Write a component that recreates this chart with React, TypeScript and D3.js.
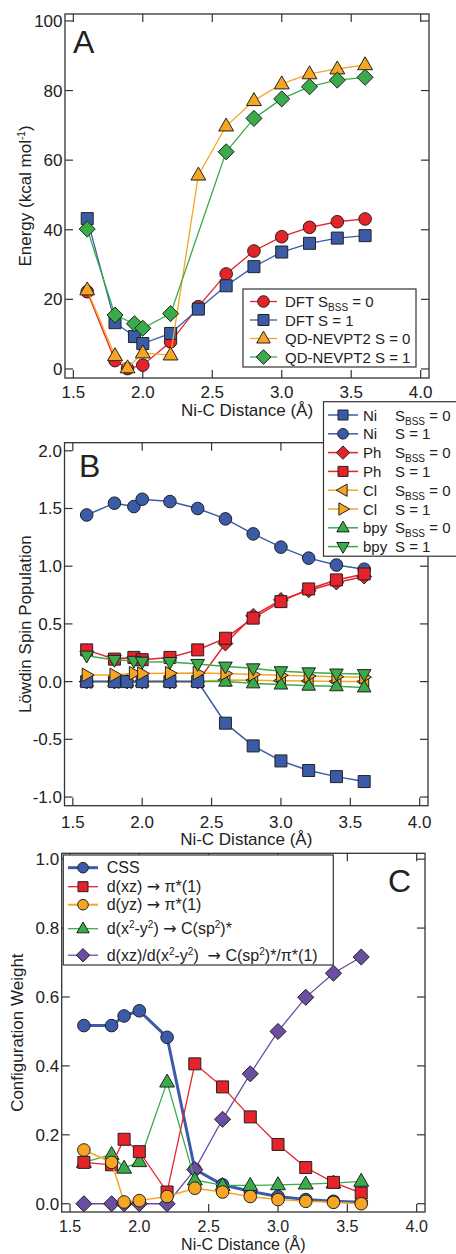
import React from 'react';
import * as d3 from 'd3';

// Ni-C distances: S(BSS)=0 scans use 1.89, S=1 scans use 1.94
const xS0 = [1.6, 1.8, 1.89, 2.0, 2.2, 2.4, 2.6, 2.8, 3.0, 3.2, 3.4, 3.6];
const xS1 = [1.6, 1.8, 1.94, 2.0, 2.2, 2.4, 2.6, 2.8, 3.0, 3.2, 3.4, 3.6];
const xTicks = [1.5, 2.0, 2.5, 3.0, 3.5, 4.0];

// A: energies (kcal/mol)
const energyTicks = [0, 20, 40, 60, 80, 100];
const dftBss0 = [22.2, 2.4, 0.1, 1.1, 7.8, 17.9, 27.3, 33.9, 38.0, 40.7, 42.3, 43.1];
const dftS1 = [43.2, 13.3, 9.3, 7.3, 10.2, 17.2, 23.9, 29.4, 33.6, 36.1, 37.6, 38.3];
const nevS0 = [22.7, 3.8, 0.3, 4.6, 4.0, 55.7, 69.8, 77.1, 81.9, 84.8, 86.2, 87.4];
const nevS1 = [40.2, 15.5, 13.0, 11.7, 15.9, null, 62.4, 72.0, 77.6, 81.1, 83.0, 83.8];

// B: Löwdin spin populations
const spinTicks = [-1.0, -0.5, 0.0, 0.5, 1.0, 1.5, 2.0];
const niBss0 = [0, 0, 0, 0, 0, 0, -0.36, -0.557, -0.687, -0.77, -0.823, -0.866];
const niS1 = [1.444, 1.546, 1.517, 1.58, 1.56, 1.5, 1.41, 1.28, 1.165, 1.07, 1.01, 0.974];
const phBss0 = [0, 0, 0, 0, 0, 0, 0.33, 0.57, 0.708, 0.79, 0.858, 0.91];
const phS1 = [0.275, 0.195, 0.21, 0.19, 0.21, 0.275, 0.376, 0.55, 0.693, 0.803, 0.881, 0.933];
const clBss0 = [0, 0, 0, 0, 0, 0, 0.015, 0.012, 0.008, 0.005, 0.002, 0.0];
const clS1 = [0.058, 0.058, 0.072, 0.07, 0.072, 0.074, 0.07, 0.062, 0.055, 0.048, 0.042, 0.038];
const bpyBss0 = [0, 0, 0, 0, 0, 0, 0.0, -0.015, -0.025, -0.035, -0.04, -0.05];
const bpyS1 = [0.225, 0.188, 0.18, 0.173, 0.17, 0.153, 0.13, 0.115, 0.09, 0.08, 0.07, 0.065];

// C: configuration weights
const weightTicks = [0, 0.2, 0.4, 0.6, 0.8, 1.0];
const css = [0.517, 0.517, 0.545, 0.56, 0.483, 0.1, 0.055, 0.036, 0.021, 0.012, 0.007, 0.004];
const dxz = [0.12, 0.113, 0.187, 0.151, 0.034, 0.406, 0.339, 0.252, 0.172, 0.105, 0.062, 0.031];
const dyz = [0.156, 0.12, 0.005, 0.009, 0.021, 0.045, 0.034, 0.021, 0.012, 0.007, 0.004, 0.0];
const dx2y2 = [0.12, 0.143, 0.103, 0.122, 0.353, 0.069, 0.053, 0.053, 0.055, 0.057, 0.06, 0.065];
const mixed = [0, 0, 0, 0, 0, 0.099, 0.245, 0.377, 0.5, 0.599, 0.669, 0.716];

const RED = '#e6222a';
const BLUE = '#3b5ba9';
const ORANGE = '#f6a623';
const GREEN = '#3aab49';
const PURPLE = '#6a4ea1';
const INK = '#222';
const FONT = '"Liberation Sans", Arial, sans-serif';
const TL = 8;

function marker(shape: string, s = 12) {
  const a = s / 2;
  if (shape === 'circle') {
    const r = s / 2 + 0.3;
    return `M${r},0A${r},${r} 0 1 1 ${-r},0A${r},${r} 0 1 1 ${r},0Z`;
  }
  if (shape === 'square') return `M${-a},${-a}H${a}V${a}H${-a}Z`;
  if (shape === 'diamond') {
    const d = s * 0.67;
    return `M0,${-d}L${d},0L0,${d}L${-d},0Z`;
  }
  const w = s * 0.62, h = s * 1.08;
  const pts: number[][] = [[0, -h * 0.62], [w, h * 0.38], [-w, h * 0.38]];
  const rot = { up: 0, right: 90, down: 180, left: 270 }[shape] || 0;
  const t = (rot * Math.PI) / 180;
  const p = pts.map(([x, y]) => [x * Math.cos(t) - y * Math.sin(t), x * Math.sin(t) + y * Math.cos(t)]);
  return `M${p[0][0]},${p[0][1]}L${p[1][0]},${p[1][1]}L${p[2][0]},${p[2][1]}Z`;
}

const Series = ({ x, y, xs, ys, color, shape, lw = 1.3, size = 12 }: any) => {
  const pts = xs.map((v: number, i: number) => [v, ys[i]]).filter((p: any) => p[1] != null);
  const line = d3.line<any>().x((d) => x(d[0])).y((d) => y(d[1]));
  const m = marker(shape, size);
  return (
    <g>
      <path d={line(pts) || ''} fill="none" stroke={color} strokeWidth={lw} />
      {pts.map((p: any, i: number) => (
        <path key={i} d={m} transform={`translate(${x(p[0])},${y(p[1])})`} fill={color} stroke={INK} strokeWidth={1} />
      ))}
    </g>
  );
};

const Frame = ({ x, y, yTicks, yFmt, xLabelY, xTitleY, yTitleX, yTitle, letter, fs = 17 }: any) => {
  const [x0, x1] = x.range();
  const [yb, yt] = y.range();
  return (
    <g fontFamily={FONT} fill={INK}>
      <rect x={x0} y={yt} width={x1 - x0} height={yb - yt} fill="none" stroke="#333" strokeWidth={1.3} />
      {xTicks.map((t) => (
        <g key={t}>
          <line x1={x(t)} x2={x(t)} y1={yb} y2={yb - TL} stroke="#333" strokeWidth={1.2} />
          <line x1={x(t)} x2={x(t)} y1={yt} y2={yt + TL} stroke="#333" strokeWidth={1.2} />
          <text x={x(t)} y={xLabelY} textAnchor="middle" fontSize={fs}>{t.toFixed(1)}</text>
        </g>
      ))}
      {yTicks.map((t: number) => (
        <g key={t}>
          <line x1={x0} x2={x0 + TL} y1={y(t)} y2={y(t)} stroke="#333" strokeWidth={1.2} />
          <line x1={x1} x2={x1 - TL} y1={y(t)} y2={y(t)} stroke="#333" strokeWidth={1.2} />
          <text x={x0 - 2.5} y={y(t) + 6} textAnchor="end" fontSize={17}>{yFmt(t)}</text>
        </g>
      ))}
      <text x={(x0 + x1) / 2} y={xTitleY} textAnchor="middle" fontSize={fs}>Ni-C Distance (Å)</text>
      <text transform={`translate(${yTitleX},${(yb + yt) / 2}) rotate(-90)`} textAnchor="middle" fontSize={17}>{yTitle}</text>
      {letter}
    </g>
  );
};

const LegendRow = ({ x0, x1, y, color, shape, size = 11, lw = 1.3, children, tx, fs = 15 }: any) => (
  <g>
    <line x1={x0} x2={x1} y1={y} y2={y} stroke={color} strokeWidth={lw} />
    <path d={marker(shape, size)} transform={`translate(${(x0 + x1) / 2},${y})`} fill={color} stroke={INK} strokeWidth={1} />
    <text x={tx} y={y + 5.5} fontSize={fs} fontFamily={FONT} fill={INK} xmlSpace="preserve">{children}</text>
  </g>
);

const Sub = ({ children }: any) => <tspan baselineShift="-4px" fontSize={10}>{children}</tspan>;
const Sup = ({ children }: any) => <tspan baselineShift="6px" fontSize={10}>{children}</tspan>;
const Arrow = () => <tspan fontFamily='"DejaVu Sans"'>→</tspan>;

export default function App() {
  const domX: [number, number] = [1.44, 4.06];
  const xA = d3.scaleLinear().domain(domX).range([65, 429]);
  const yA = d3.scaleLinear().domain([-2.6, 102]).range([378, 14]);
  const xB = d3.scaleLinear().domain(domX).range([64.5, 428]);
  const yB = d3.scaleLinear().domain([-1.075, 2.07]).range([805.7, 442.7]);
  const xC = d3.scaleLinear().domain(domX).range([61.7, 425]);
  const yC = d3.scaleLinear().domain([-0.024, 1.017]).range([1212, 853.3]);

  const legA = [
    { color: RED, shape: 'circle', label: <>DFT S<Sub>BSS</Sub> = 0</> },
    { color: BLUE, shape: 'square', label: <>DFT S = 1</> },
    { color: ORANGE, shape: 'up', label: <>QD-NEVPT2 S = 0</> },
    { color: GREEN, shape: 'diamond', label: <>QD-NEVPT2 S = 1</> },
  ];
  const legB = [
    { color: BLUE, shape: 'square', name: 'Ni', bss: true },
    { color: BLUE, shape: 'circle', name: 'Ni', bss: false },
    { color: RED, shape: 'diamond', name: 'Ph', bss: true },
    { color: RED, shape: 'square', name: 'Ph', bss: false },
    { color: ORANGE, shape: 'left', name: 'Cl', bss: true },
    { color: ORANGE, shape: 'right', name: 'Cl', bss: false },
    { color: GREEN, shape: 'up', name: 'bpy', bss: true },
    { color: GREEN, shape: 'down', name: 'bpy', bss: false },
  ];
  const legC = [
    { color: BLUE, shape: 'circle', lw: 3, dy: 0, label: <>CSS</> },
    { color: RED, shape: 'square', lw: 1.3, dy: 19, label: <>d(xz) <Arrow /> π*(1)</> },
    { color: ORANGE, shape: 'circle', lw: 2, dy: 37, label: <>d(yz) <Arrow /> π*(1)</> },
    { color: GREEN, shape: 'up', lw: 1.3, dy: 61, label: <>d(x<Sup>2</Sup>-y<Sup>2</Sup>) <Arrow /> C(sp<Sup>2</Sup>)*</> },
    { color: PURPLE, shape: 'diamond', lw: 1.3, dy: 87.5, label: <>d(xz)/d(x<Sup>2</Sup>-y<Sup>2</Sup>)  <Arrow /> C(sp<Sup>2</Sup>)*/π*(1)</> },
  ];

  return (
    <svg width={456} height={1254} style={{ position: 'absolute', left: 0, top: 0, background: '#fff' }}>
      {/* Panel A */}
      <Frame x={xA} y={yA} yTicks={energyTicks} yFmt={(d: number) => String(d)} xLabelY={398} xTitleY={416} yTitleX={31}
        yTitle={<>Energy (kcal mol<Sup>-1</Sup>)</>}
        letter={<text x={73} y={53} fontSize={32}>A</text>} />
      <Series x={xA} y={yA} xs={xS0} ys={dftBss0} color={RED} shape="circle" />
      <Series x={xA} y={yA} xs={xS1} ys={dftS1} color={BLUE} shape="square" />
      <Series x={xA} y={yA} xs={xS0} ys={nevS0} color={ORANGE} shape="up" />
      <Series x={xA} y={yA} xs={xS1} ys={nevS1} color={GREEN} shape="diamond" />
      <rect x={243} y={289} width={173} height={78} fill="#fff" stroke="#333" strokeWidth={1.2} />
      {legA.map((d, i) => (
        <LegendRow key={i} x0={250} x1={277} y={301.5 + i * 18.5} color={d.color} shape={d.shape} size={11} tx={285}>{d.label}</LegendRow>
      ))}

      {/* Panel B */}
      <Frame x={xB} y={yB} yTicks={spinTicks} yFmt={(d: number) => d.toFixed(1)} xLabelY={828} xTitleY={845} yTitleX={31}
        yTitle={<>Löwdin Spin Population</>}
        letter={<text x={79} y={477} fontSize={32}>B</text>} />
      <Series x={xB} y={yB} xs={xS0} ys={phBss0} color={RED} shape="diamond" lw={1.5} size={11} />
      <Series x={xB} y={yB} xs={xS0} ys={clBss0} color={ORANGE} shape="left" lw={1.5} size={11} />
      <Series x={xB} y={yB} xs={xS0} ys={bpyBss0} color={GREEN} shape="up" lw={1.5} size={11} />
      <Series x={xB} y={yB} xs={xS0} ys={niBss0} color={BLUE} shape="square" lw={1.5} size={12} />
      <Series x={xB} y={yB} xs={xS1} ys={niS1} color={BLUE} shape="circle" lw={1.5} size={12} />
      <Series x={xB} y={yB} xs={xS1} ys={phS1} color={RED} shape="square" lw={1.5} size={12} />
      <Series x={xB} y={yB} xs={xS1} ys={clS1} color={ORANGE} shape="right" lw={1.5} size={11} />
      <Series x={xB} y={yB} xs={xS1} ys={bpyS1} color={GREEN} shape="down" lw={1.5} size={11} />
      <rect x={323.5} y={401.7} width={140} height={154.5} fill="#fff" stroke="#333" strokeWidth={1.2} />
      {legB.map((d, i) => (
        <LegendRow key={i} x0={328} x1={358} y={415 + i * 18.8} color={d.color} shape={d.shape} size={10} lw={1.5} tx={363}>
          {d.name}
          <tspan x={395}>S</tspan>
          {d.bss ? <Sub>BSS</Sub> : null}{` = ${d.bss ? 0 : 1}`}
        </LegendRow>
      ))}

      {/* Panel C */}
      <Frame x={xC} y={yC} yTicks={weightTicks} yFmt={(d: number) => d.toFixed(1)} xLabelY={1231.5} xTitleY={1250} yTitleX={23} fs={16}
        yTitle={<>Configuration Weight</>}
        letter={<text x={411} y={892} fontSize={32} textAnchor="end">C</text>} />
      <Series x={xC} y={yC} xs={xS0} ys={css} color={BLUE} shape="circle" lw={3} />
      <Series x={xC} y={yC} xs={xS0} ys={mixed} color={PURPLE} shape="diamond" />
      <Series x={xC} y={yC} xs={xS0} ys={dx2y2} color={GREEN} shape="up" />
      <Series x={xC} y={yC} xs={xS0} ys={dxz} color={RED} shape="square" />
      <Series x={xC} y={yC} xs={xS0} ys={dyz} color={ORANGE} shape="circle" lw={1.5} />
      <rect x={63.3} y={855} width={270} height={110} fill="#fff" stroke="#333" strokeWidth={1.2} />
      {legC.map((d, i) => (
        <LegendRow key={i} x0={68} x1={98} y={867.7 + d.dy} color={d.color} shape={d.shape} size={10} lw={d.lw} tx={106.7} fs={16}>{d.label}</LegendRow>
      ))}
    </svg>
  );
}
